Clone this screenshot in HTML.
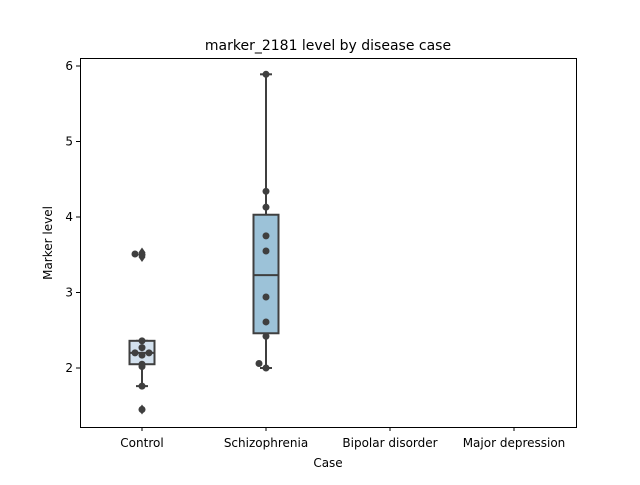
<!DOCTYPE html>
<html><head><meta charset="utf-8"><style>
body{margin:0;background:#fff;font-family:"Liberation Sans","DejaVu Sans",sans-serif;}
svg text{font-family:"DejaVu Sans","Liberation Sans",sans-serif;fill:#000}
</style></head><body>
<svg id="chart" width="640" height="480" viewBox="0 0 640 480">
<rect x="0" y="0" width="640" height="480" fill="#fff"/>
<text x="328" y="50" font-size="14" text-anchor="middle">marker_2181 level by disease case</text>
<g id="plot"></g>
<rect x="80.5" y="58.5" width="496" height="369" fill="none" stroke="#000" stroke-width="1"/>
<text x="328" y="467" font-size="12" text-anchor="middle">Case</text>
<text transform="translate(52,243) rotate(-90)" font-size="12" text-anchor="middle">Marker level</text>
</svg>
<script>
const categories = ["Control","Schizophrenia","Bipolar disorder","Major depression"];
const yTicks = [2,3,4,5,6];
const boxQ1 = [2.05, 2.46];
const boxMedian = [2.2, 3.23];
const boxQ3 = [2.36, 4.03];
const whiskerLow = [1.76, 2.0];
const whiskerHigh = [2.36, 5.89];
const boxColors = ["#d3e1ee", "#9cc2d8"];
const outliers0 = [3.53, 3.47, 1.45];
const outliers1 = [];
const points0 = [3.51, 2.36, 2.27, 2.2, 2.17, 2.2, 2.02, 1.76, 3.5, 1.45, 2.05];
const points0Offset = [-1, 0, 0, -1, 0, 1, 0, 0, 0, 0, 0];
const points1 = [5.89, 4.34, 4.13, 3.75, 3.55, 2.94, 2.61, 2.42, 2.06, 2.0];
const points1Offset = [0, 0, 0, 0, 0, 0, 0, 0, -1, 0];

const NS = "http://www.w3.org/2000/svg";
const plot = document.getElementById("plot");
const x0 = 80, x1 = 576, yTop = 58, yBot = 427;
function xScale(i){ return x0 + (x1 - x0) * (i + 0.5) / categories.length; }
function yScale(v){ return 368 - (v - 2) * 75.5; }
function mk(tag, attrs){ const e = document.createElementNS(NS, tag); for (const k in attrs) e.setAttribute(k, attrs[k]); plot.appendChild(e); return e; }

yTicks.forEach(t => {
  const y = yScale(t);
  const tk = mk("line", {x1: x0 - 4, x2: x0, y1: y, y2: y, stroke: "#000"});
  
  
  const lb = mk("text", {x: x0 - 7, y: y + 4, "font-size": 12, "text-anchor": "end"});
  lb.textContent = t;
  
  
});
categories.forEach((c, i) => {
  const x = xScale(i);
  const tk = mk("line", {x1: x, x2: x, y1: yBot, y2: yBot + 4, stroke: "#000"});
  
  
  const lb = mk("text", {x: x, y: yBot + 20, "font-size": 12, "text-anchor": "middle"});
  lb.textContent = c;
  
  
});

const hw = 12.5, col = "#3f3f3f";
boxQ1.forEach((q1, i) => {
  const x = xScale(i);
  const w = mk("line", {x1: x, x2: x, y1: yScale(whiskerLow[i]), y2: yScale(whiskerHigh[i]), stroke: col, "stroke-width": 2});
  
  
  [whiskerLow[i], whiskerHigh[i]].forEach(v => {
    const cap = mk("line", {x1: x - 6, x2: x + 6, y1: yScale(v), y2: yScale(v), stroke: col, "stroke-width": 2});
    
    
  });
  const b = mk("rect", {x: x - hw, y: yScale(boxQ3[i]), width: hw * 2, height: yScale(q1) - yScale(boxQ3[i]), fill: boxColors[i], stroke: col, "stroke-width": 2});
  
  
  const m = mk("line", {x1: x - hw, x2: x + hw, y1: yScale(boxMedian[i]), y2: yScale(boxMedian[i]), stroke: col, "stroke-width": 2});
  
  
});
[outliers0, outliers1].forEach((arr, i) => {
  arr.forEach(v => {
    const x = xScale(i), y = yScale(v);
    const d = mk("path", {d: `M${x},${y-5} L${x+3.5},${y} L${x},${y+5} L${x-3.5},${y} Z`, fill: col});
    
    
  });
});
[[points0, points0Offset], [points1, points1Offset]].forEach(([arr, off], i) => {
  arr.forEach((v, j) => {
    const p = mk("circle", {cx: xScale(i) + off[j] * 7, cy: yScale(v), r: 3.5, fill: col});
    
    
  });
});
</script>
</body></html>
